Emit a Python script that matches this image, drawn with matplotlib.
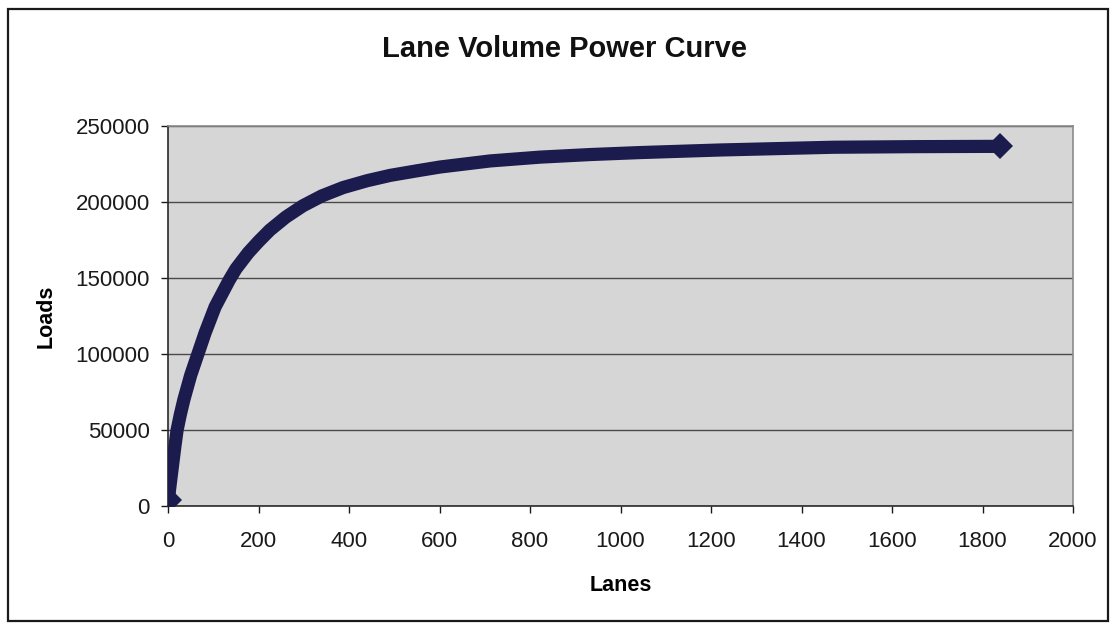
import matplotlib
matplotlib.use('Agg')
import matplotlib.pyplot as plt
from matplotlib.patches import Rectangle

plt.rcParams['font.family'] = ['Liberation Sans', 'DejaVu Sans']

# values
lanes = [1, 3, 5, 10, 15, 20, 27, 35, 50, 66, 82, 104, 135, 150, 177, 200,
         225, 260, 298, 340, 387, 440, 491, 550, 601, 712, 822, 933, 1043,
         1220, 1470, 1650, 1839]
loads = [4000, 10000, 15000, 27000, 39000, 50000, 60000, 70000, 86000,
         100000, 114000, 131000, 148500, 156000, 166500, 174000, 181500,
         190000, 197500, 204000, 209500, 214000, 217500, 220500, 223000,
         227000, 229500, 231200, 232500, 234200, 236000, 236400, 236600]

x_ticks = list(range(0, 2001, 200))
y_ticks = list(range(0, 250001, 50000))

NAVY = '#1c1b4e'

fig = plt.figure(figsize=(11.10, 6.23), dpi=100)
ax = fig.add_axes([0.1514, 0.1878, 0.8153, 0.6100])

ax.set_facecolor('#d6d6d6')
ax.plot(lanes, loads, color=NAVY, linewidth=9.5, marker='D', markersize=13.5,
        markevery=[0, len(lanes) - 1], markeredgewidth=0,
        solid_capstyle='butt', solid_joinstyle='round', zorder=3)

ax.set_xlim(0, 2000)
ax.set_ylim(0, 250000)
ax.set_xticks(x_ticks)
ax.set_yticks(y_ticks)
ax.set_xticklabels([str(v) for v in x_ticks])
ax.set_yticklabels([str(v) for v in y_ticks])
ax.grid(axis='y', color='#4a4a4a', linewidth=1.0, zorder=1)
ax.set_axisbelow(True)

ax.tick_params(axis='both', labelsize=16, colors='#1a1a1a', length=5,
               width=1, direction='out')
ax.tick_params(axis='x', pad=13)
ax.tick_params(axis='y', pad=8)

for side in ['left', 'bottom']:
    ax.spines[side].set_color('#2a2a2a')
    ax.spines[side].set_linewidth(1.2)
for side in ['top', 'right']:
    ax.spines[side].set_color('#8a8a8a')
    ax.spines[side].set_linewidth(1.2)

ax.set_xlabel('Lanes', fontsize=15.5, fontweight='bold')
ax.set_ylabel('Loads', fontsize=15.5, fontweight='bold')
ax.xaxis.set_label_coords(0.5, -0.181)
ax.yaxis.set_label_coords(-0.1227, 0.5)

fig.text(564 / 1110, 1 - 49 / 623, 'Lane Volume Power Curve', fontsize=21,
         fontweight='bold', ha='center', va='center', color='#111111')

# outer chart frame
frame = Rectangle((8 / 1110, 2 / 623), 1100 / 1110, 612 / 623,
                  transform=fig.transFigure, fill=False,
                  edgecolor='#1a1a1a', linewidth=1.6)
fig.patches.append(frame)

fig.savefig('out.png', dpi=100)
